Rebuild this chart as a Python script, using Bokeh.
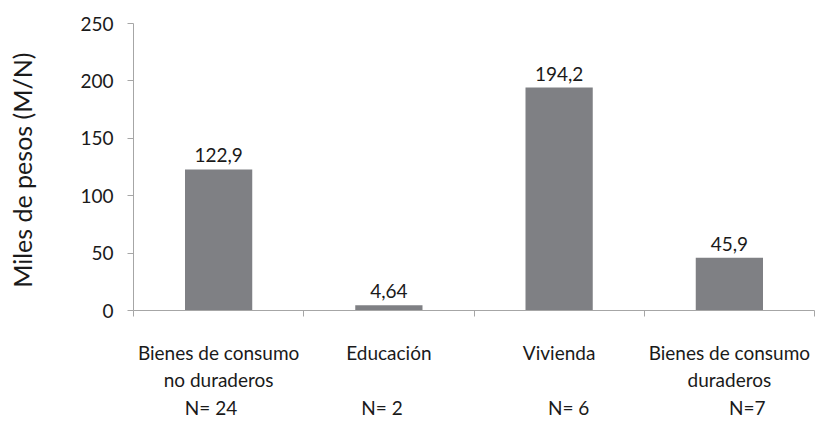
from bokeh.plotting import figure
from bokeh.models import Range1d, LinearAxis, FixedTicker, ColumnDataSource
from bokeh.core.properties import value
from bokeh.embed import file_html
from bokeh.resources import INLINE

# ---- data ----
categories = ["Bienes de consumo\nno duraderos", "Educación", "Vivienda",
              "Bienes de consumo\nduraderos"]
values = [122.9, 4.64, 194.2, 45.9]
value_labels = ["122,9", "4,64", "194,2", "45,9"]
n_labels = ["N=  24", "N= 2", "N=  6", "N=7"]
y_ticks = [0, 50, 100, 150, 200, 250]
y_label = "Miles de pesos  (M/N)"

# ---- style ----
FONT = "Lato"
AXIS_COLOR = "#a6a6a6"
BAR_COLOR = "#7f8084"
TEXT_COLOR = "#1a1a1a"

n = len(categories)
centers = [i + 0.5 for i in range(n)]
bounds = list(range(n + 1))
n_offsets = [-0.03, -0.04, 0.07, 0.105]
n_pos = [c + o for c, o in zip(centers, n_offsets)]

p = figure(width=816, height=421, x_range=Range1d(0, n), y_range=Range1d(0, 250),
           x_axis_location=None, toolbar_location=None, output_backend="svg",
           min_border_left=133, min_border_right=2, min_border_top=23,
           min_border_bottom=111, outline_line_color=None)
p.xgrid.visible = False
p.ygrid.visible = False

src = ColumnDataSource(dict(x=centers, top=values, lab=value_labels))
p.vbar(x="x", top="top", width=0.395, source=src, fill_color=BAR_COLOR, line_color=None)
p.text(x="x", y="top", text="lab", source=src, text_align="center",
       text_baseline="alphabetic", y_offset=-14, text_font=value(FONT),
       text_font_size="19px", text_color=TEXT_COLOR)

# y axis
ya = p.yaxis[0]
ya.ticker = FixedTicker(ticks=y_ticks)
ya.axis_line_color = AXIS_COLOR
ya.major_tick_line_color = AXIS_COLOR
ya.major_tick_in = 0
ya.major_tick_out = 6
ya.minor_tick_line_color = None
ya.major_label_text_font = FONT
ya.major_label_text_font_size = "19px"
ya.major_label_text_color = TEXT_COLOR
ya.major_label_standoff = 14
ya.axis_label = y_label
ya.axis_label_text_font = FONT
ya.axis_label_text_font_style = "normal"
ya.axis_label_text_font_size = "25px"
ya.axis_label_text_color = TEXT_COLOR
ya.axis_label_standoff = 40

# x axis with category labels and boundary ticks
xa = LinearAxis(ticker=FixedTicker(ticks=centers, minor_ticks=bounds),
                major_label_overrides={c: lab for c, lab in zip(centers, categories)})
xa.axis_line_color = AXIS_COLOR
xa.major_tick_line_color = None
xa.major_tick_in = 0
xa.major_tick_out = 0
xa.minor_tick_line_color = AXIS_COLOR
xa.minor_tick_in = 0
xa.minor_tick_out = 6
xa.major_label_text_font = FONT
xa.major_label_text_font_size = "19px"
xa.major_label_text_line_height = 1.2
xa.major_label_text_color = TEXT_COLOR
xa.major_label_standoff = 24
p.add_layout(xa, "below")

# N labels axis
na = LinearAxis(ticker=FixedTicker(ticks=n_pos),
                major_label_overrides={c: lab for c, lab in zip(n_pos, n_labels)})
na.axis_line_color = None
na.major_tick_line_color = None
na.minor_tick_line_color = None
na.major_tick_in = 0
na.major_tick_out = 0
na.major_label_text_font = FONT
na.major_label_text_font_size = "19px"
na.major_label_text_color = TEXT_COLOR
na.major_label_standoff = 1
p.add_layout(na, "below")

open("out.html", "w").write(file_html(p, INLINE))
